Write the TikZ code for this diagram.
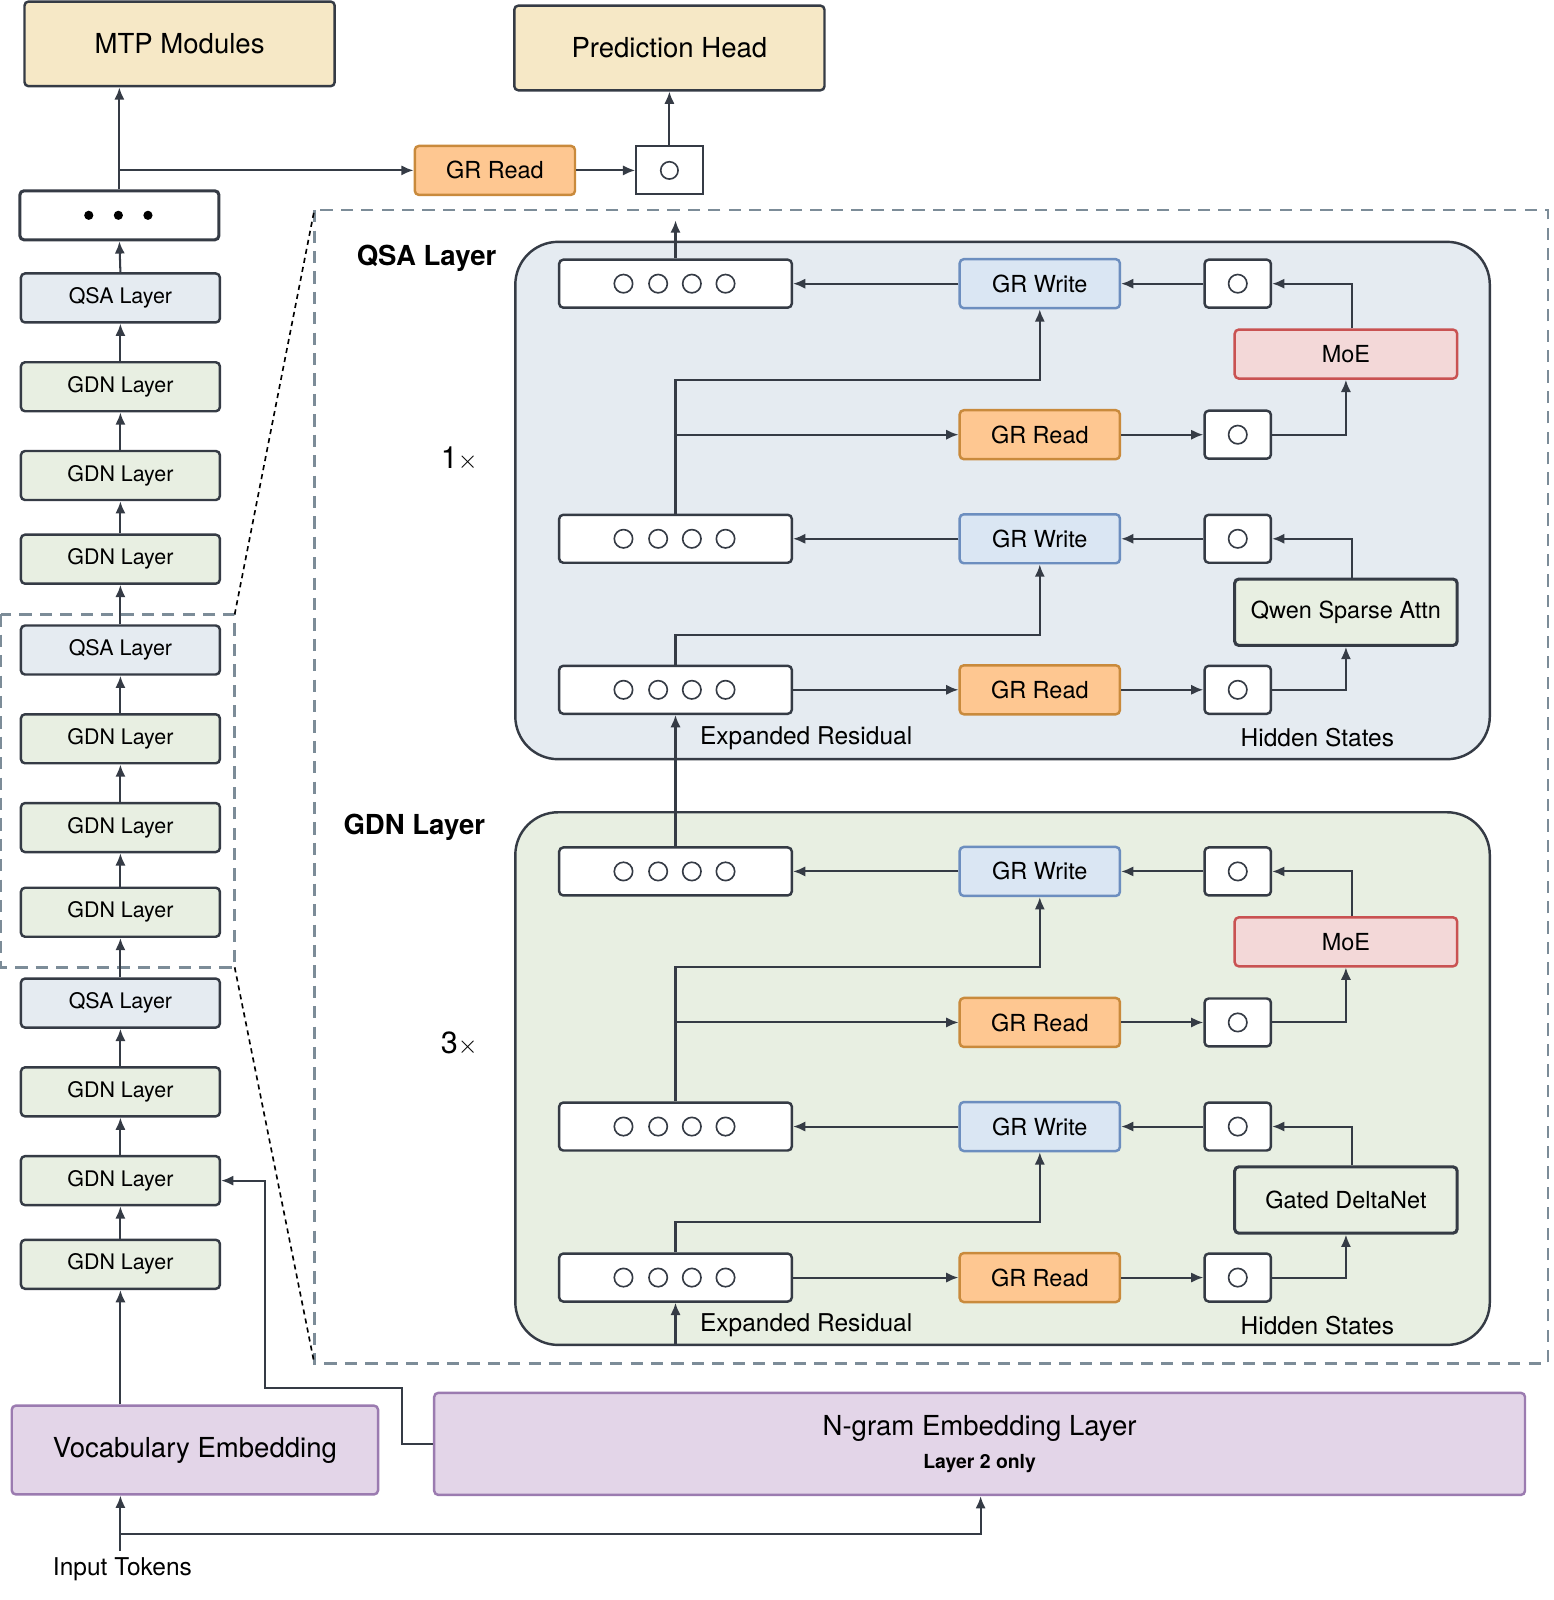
\documentclass[tikz,border=0pt]{standalone}
\usepackage{fontspec}
\setmainfont{TeX Gyre Heros}
\usetikzlibrary{arrows.meta}
\definecolor{ln}{HTML}{353B45}
\definecolor{tanF}{HTML}{F6E8C6}
\definecolor{qsaF}{HTML}{E5EBF1}
\definecolor{gdnF}{HTML}{E8EFE2}
\definecolor{wrF}{HTML}{DAE6F3}
\definecolor{wrD}{HTML}{6C8EBF}
\definecolor{rdF}{HTML}{FEC791}
\definecolor{rdD}{HTML}{C98A3C}
\definecolor{moeF}{HTML}{F3D8D8}
\definecolor{moeD}{HTML}{C95252}
\definecolor{puF}{HTML}{E3D5E8}
\definecolor{puD}{HTML}{9B7BB0}
\definecolor{dsh}{HTML}{7C8C98}
\tikzset{
 x=1pt,y=-1pt,
 arr/.style={draw=ln,line width=2pt,-{Latex[length=12pt,width=10pt]}},
 box/.style={draw=ln,line width=2.4pt,rounded corners=4pt,inner sep=0pt},
 layer/.style={box,minimum width=195pt,minimum height=48pt,font=\fontsize{21}{25}\selectfont},
 qsa/.style={layer,fill=qsaF},
 gdn/.style={layer,fill=gdnF},
 res/.style={box,fill=white,minimum width=228pt,minimum height=47pt},
 sm/.style={box,fill=white,minimum width=65pt,minimum height=47pt},
 grw/.style={box,draw=wrD,fill=wrF,minimum width=157pt,minimum height=48pt,font=\fontsize{23}{27}\selectfont},
 grr/.style={box,draw=rdD,fill=rdF,minimum width=157pt,minimum height=48pt,font=\fontsize{23}{27}\selectfont},
 moe/.style={box,draw=moeD,fill=moeF,minimum width=218pt,minimum height=48pt,font=\fontsize{23}{27}\selectfont},
 att/.style={box,line width=3pt,fill=gdnF,minimum width=218pt,minimum height=65pt,font=\fontsize{23}{27}\selectfont},
 head/.style={box,fill=tanF,minimum width=304pt,minimum height=83pt,font=\fontsize{27}{32}\selectfont},
 emb/.style={box,draw=puD,fill=puF,font=\fontsize{27}{32}\selectfont},
 circ/.style={draw=ln,line width=1.6pt},
 lbl/.style={font=\fontsize{24}{28}\selectfont},
}
\begin{document}
\begin{tikzpicture}
\useasboundingbox (0,0) rectangle (1522,1568);
% dashed regions
\draw[dsh,line width=2.4pt,dash pattern=on 12pt off 8pt] (308,206) rectangle (1517,1336);
\draw[dsh,line width=2.4pt,dash pattern=on 12pt off 8pt] (1,602) rectangle (230,948);
\draw[black,line width=1.6pt,dash pattern=on 5pt off 4pt] (230,602) -- (308,206);
\draw[black,line width=1.6pt,dash pattern=on 5pt off 4pt] (230,948) -- (308,1336);
% panels
\draw[ln,line width=2.4pt,fill=qsaF,rounded corners=42pt] (505,237) rectangle (1460,744);
\draw[ln,line width=2.4pt,fill=gdnF,rounded corners=42pt] (505,796) rectangle (1460,1318);
\node[font=\bfseries\fontsize{27}{32}\selectfont] (lq) at (418,253) {QSA Layer};
\node[font=\fontsize{30}{34}\selectfont] (nq) at (450,450) {1$\times$};
\node[font=\bfseries\fontsize{27}{32}\selectfont] (lg) at (406,811) {GDN Layer};
\node[font=\fontsize{30}{34}\selectfont] (ng3) at (450,1023) {3$\times$};
% top
\node[head] (mtp) at (176,43) {MTP Modules};
\node[head] (ph) at (656,47) {Prediction Head};
\node[grr] (tr) at (485,167) {GR Read};
\node[sm,line width=2pt,rounded corners=0pt] (ts) at (656,167) {};
\draw[circ] (ts.center) circle (8.5pt);
\node[box,line width=3pt,fill=white,minimum width=195pt,minimum height=48pt] (dots) at (117,211) {};
\foreach \xx in {87,116,145} \fill (\xx,211) circle (4.5pt);
% left column
\node[qsa] (L1) at (118,292) {QSA Layer};
\node[gdn] (L2) at (118,379) {GDN Layer};
\node[gdn] (L3) at (118,466) {GDN Layer};
\node[gdn] (L4) at (118,548) {GDN Layer};
\node[qsa] (L5) at (118,637) {QSA Layer};
\node[gdn] (L6) at (118,724) {GDN Layer};
\node[gdn] (L7) at (118,811) {GDN Layer};
\node[gdn] (L8) at (118,894) {GDN Layer};
\node[qsa] (L9) at (118,983) {QSA Layer};
\node[gdn] (L10) at (118,1070) {GDN Layer};
\node[gdn] (L11) at (118,1157) {GDN Layer};
\node[gdn] (L12) at (118,1239) {GDN Layer};
\foreach \a/\b in {L12/L11,L11/L10,L10/L9,L9/L8,L8/L7,L7/L6,L6/L5,L5/L4,L4/L3,L3/L2,L2/L1,L1/dots}
  \draw[arr] (\a.north) -- (\b.south);
\draw[arr] (dots.north) -- (mtp.south -| dots.north);
\coordinate (br) at (117,167);
\draw[arr] (br) -- (tr.west);
\draw[arr] (tr.east) -- (ts.west);
\draw[arr] (ts.north) -- (ph.south -| ts.north);
% embeddings
\node[emb,minimum width=359pt,minimum height=87pt] (voc) at (191,1421) {Vocabulary Embedding};
\node[emb,minimum width=1069pt,minimum height=100pt] (ng) at (960,1415) {};
\node[font=\fontsize{27}{32}\selectfont] (ngt) at (960,1400) {N-gram Embedding Layer};
\node[font=\bfseries\fontsize{19}{23}\selectfont] (ngs) at (960,1434) {Layer 2 only};
\node[lbl] (inp) at (120,1538) {Input Tokens};
\draw[arr] (voc.north -| L12.south) -- (L12.south);
\coordinate (it) at (118,1520);
\draw[arr] (it) -- (voc.south -| it);
\draw[arr] (118,1503) -- (961,1503) -- (ng.south -| 961,0);
\draw[arr] (ng.west) -- (394,1415) -- (394,1360) -- (260,1360) -- (260,1157) -- (L11.east);
% panels content
\foreach \p/\dy/\mod in {q/0/Qwen Sparse Attn, g/576/Gated DeltaNet}{
  \node[res] (\p r1) at (662,{278+\dy}) {};
  \node[res] (\p r2) at (662,{528+\dy}) {};
  \node[res] (\p r3) at (662,{676+\dy}) {};
  \foreach \rr in {r1,r2,r3}
    \foreach \o in {-51,-17,16,49}
      \draw[circ] ([xshift=\o pt]\p\rr.center) circle (9pt);
  \node[grw] (\p w1) at (1019,{278+\dy}) {GR Write};
  \node[grw] (\p w2) at (1019,{528+\dy}) {GR Write};
  \node[grr] (\p g1) at (1019,{426+\dy}) {GR Read};
  \node[grr] (\p g2) at (1019,{676+\dy}) {GR Read};
  \node[sm] (\p s1) at (1213,{278+\dy}) {};
  \node[sm] (\p s2) at (1213,{426+\dy}) {};
  \node[sm] (\p s3) at (1213,{528+\dy}) {};
  \node[sm] (\p s4) at (1213,{676+\dy}) {};
  \foreach \ss in {s1,s2,s3,s4} \draw[circ] (\p\ss.center) circle (9pt);
  \node[moe] (\p m) at (1319,{347+\dy}) {MoE};
  \node[att] (\p a) at (1319,{600+\dy}) {\mod};
  \node[lbl] (\p e) at (790,{723+\dy}) {Expanded Residual};
  \node[lbl] (\p h) at (1291,{723+\dy}) {Hidden States};
  \draw[arr] (\p r3.east) -- (\p g2.west);
  \draw[arr] (\p g2.east) -- (\p s4.west);
  \draw[arr] (\p s4.east) -| (\p a.south);
  \draw[arr] ([xshift=6pt]\p a.north) |- (\p s3.east);
  \draw[arr] (\p s3.west) -- (\p w2.east);
  \draw[arr] (\p w2.west) -- (\p r2.east);
  \draw[arr] (\p r3.north) -- (662,{622+\dy}) -| (\p w2.south);
  \draw[arr] (\p r2.north) -- (662,{372+\dy}) -| (\p w1.south);
  \draw[arr] (662,{426+\dy}) -- (\p g1.west);
  \draw[arr] (\p g1.east) -- (\p s2.west);
  \draw[arr] (\p s2.east) -| (\p m.south);
  \draw[arr] ([xshift=6pt]\p m.north) |- (\p s1.east);
  \draw[arr] (\p s1.west) -- (\p w1.east);
  \draw[arr] (\p w1.west) -- (\p r1.east);
}
\draw[arr] (gr1.north) -- (qr3.south);
\coordinate (gb) at (662,1318);
\draw[arr] (gb) -- (gr3.south);
\draw[arr] (qr1.north) -- (662,216);
\end{tikzpicture}
\end{document}
